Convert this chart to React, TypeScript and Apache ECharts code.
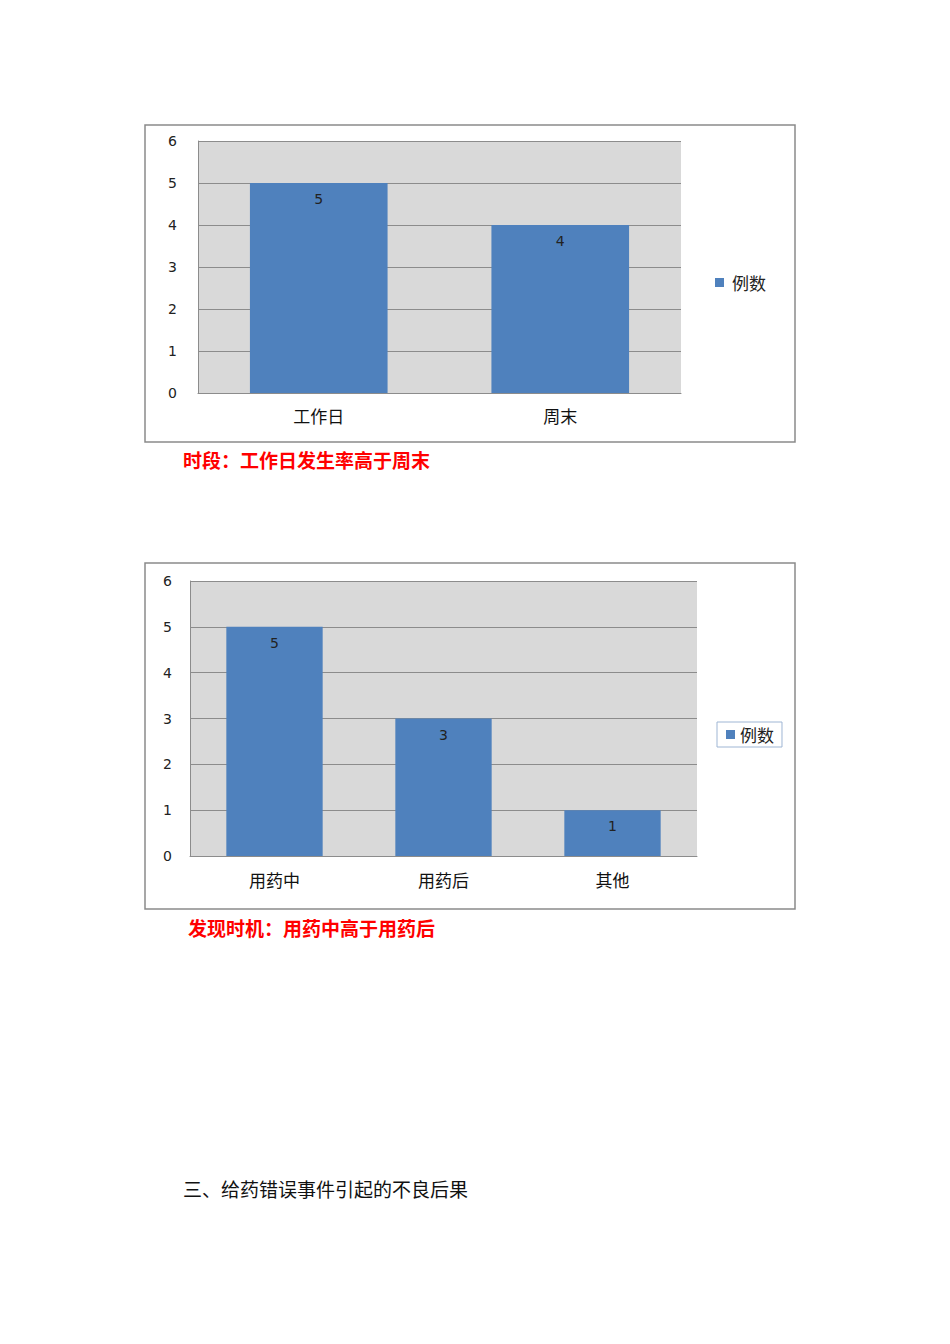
import * as React from "react";
import * as echarts from "echarts";

// 时段
const periodCats = ["工作日", "周末"];
const periodVals = [5, 4];
// 发现时机
const timingCats = ["用药中", "用药后", "其他"];
const timingVals = [5, 3, 1];
const seriesName = "例数";
const yTicks = [0, 6, 1]; // min, max, interval

const caption1 = "时段：工作日发生率高于周末";
const caption2 = "发现时机：用药中高于用药后";
const sectionTitle = "三、给药错误事件引起的不良后果";

const BLUE = "#4f81bd";
const CJK = "'Noto Sans CJK SC', sans-serif";
const NUM = "'DejaVu Sans', Verdana, sans-serif";

export default function App() {
  const ref = React.useRef<HTMLDivElement | null>(null);

  React.useEffect(() => {
    if (!ref.current) return;
    const chart = echarts.init(ref.current, undefined, { renderer: "svg" });

    const yAxis = (gi: number, margin: number) => ({
      type: "value" as const,
      gridIndex: gi,
      min: yTicks[0],
      max: yTicks[1],
      interval: yTicks[2],
      axisLine: { show: true, lineStyle: { color: "#8c8c8c", width: 1 } },
      axisTick: { show: false },
      axisLabel: { color: "#222", fontSize: 14, fontFamily: NUM, margin },
      splitLine: { lineStyle: { color: "#8c8c8c", width: 1 } },
    });
    const xAxis = (gi: number, data: string[], margin: number) => ({
      type: "category" as const,
      gridIndex: gi,
      data,
      axisLine: { show: true, lineStyle: { color: "#8c8c8c", width: 1 } },
      axisTick: { show: false },
      axisLabel: { color: "#111", fontSize: 17, fontFamily: CJK, margin },
    });
    const barLabel = {
      show: true,
      position: "insideTop" as const,
      distance: 9,
      color: "#222",
      fontSize: 14,
      fontFamily: NUM,
    };

    chart.setOption({
      animation: false,
      backgroundColor: "#fff",
      grid: [
        { left: 198, top: 141, width: 483, height: 252, show: true, backgroundColor: "#d9d9d9", borderWidth: 0 },
        { left: 190, top: 581, width: 507, height: 275, show: true, backgroundColor: "#d9d9d9", borderWidth: 0 },
      ],
      xAxis: [xAxis(0, periodCats, 14), xAxis(1, timingCats, 15)],
      yAxis: [yAxis(0, 21), yAxis(1, 18)],
      legend: [
        {
          left: 710,
          top: 269,
          data: [seriesName],
          icon: "rect",
          itemWidth: 9,
          itemHeight: 9,
          textStyle: { fontSize: 17, fontFamily: CJK, color: "#222", padding: [0, 0, 0, 3] },
        },
        {
          left: 717,
          top: 722,
          data: [seriesName],
          icon: "rect",
          itemWidth: 9,
          itemHeight: 9,
          padding: [4, 8, 4, 9],
          borderColor: "#9fb6d4",
          borderWidth: 1,
          textStyle: { fontSize: 17, fontFamily: CJK, color: "#222" },
        },
      ],
      series: [
        {
          type: "bar",
          name: seriesName,
          xAxisIndex: 0,
          yAxisIndex: 0,
          data: periodVals,
          barWidth: "57%",
          itemStyle: { color: BLUE },
          label: barLabel,
        },
        {
          type: "bar",
          name: seriesName,
          xAxisIndex: 1,
          yAxisIndex: 1,
          data: timingVals,
          barWidth: "57%",
          itemStyle: { color: BLUE },
          label: barLabel,
        },
      ],
      graphic: [
        {
          type: "rect",
          shape: { x: 145, y: 125, width: 650, height: 317 },
          style: { fill: "none", stroke: "#8a8a8a", lineWidth: 1.5 },
          silent: true,
        },
        {
          type: "rect",
          shape: { x: 145, y: 563, width: 650, height: 346 },
          style: { fill: "none", stroke: "#8a8a8a", lineWidth: 1.5 },
          silent: true,
        },
        {
          type: "text",
          x: 183,
          y: 450,
          style: { text: caption1, fill: "#ff0000", font: `bold 19px ${CJK}` },
        },
        {
          type: "text",
          x: 188,
          y: 918,
          style: { text: caption2, fill: "#ff0000", font: `bold 19px ${CJK}` },
        },
        {
          type: "text",
          x: 183,
          y: 1179,
          style: { text: sectionTitle, fill: "#111", font: `19px ${CJK}` },
        },
      ],
    });

    return () => chart.dispose();
  }, []);

  return (
    <div
      ref={ref}
      style={{ position: "absolute", left: 0, top: 0, width: 950, height: 1344 }}
    />
  );
}
